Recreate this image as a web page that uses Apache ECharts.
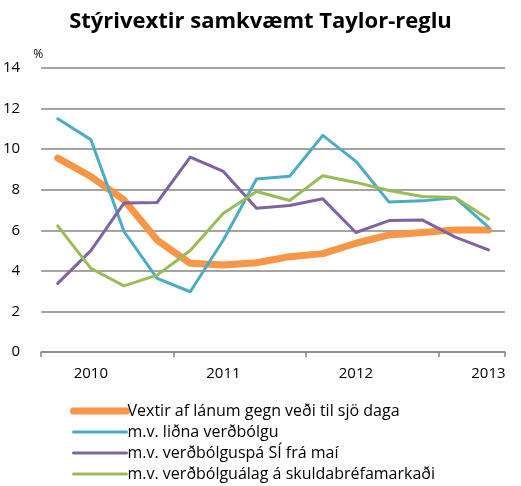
<!DOCTYPE html>
<html>
<head>
<meta charset="utf-8">
<script src="https://cdn.jsdelivr.net/npm/echarts@6/dist/echarts.min.js"></script>
<style>
  html, body { margin: 0; padding: 0; background: #fff; }
  #chart { width: 521px; height: 486px; }
</style>
</head>
<body>
<div id="chart"></div>
<script>
// ársfjórðungar, 2009 F4 - 2013 F1
const quarters = ['2009F4', '2010F1', '2010F2', '2010F3', '2010F4', '2011F1', '2011F2',
  '2011F3', '2011F4', '2012F1', '2012F2', '2012F3', '2012F4', '2013F1']
const yearLabels = ['', '2010', '', '', '', '2011', '', '', '', '2012', '', '', '', '2013']

const vextir = [9.56, 8.65, 7.5, 5.52, 4.37, 4.29, 4.4, 4.7, 4.85, 5.36, 5.77, 5.89, 6.02, 6.02]
const lidnaVerdbolgu = [11.5, 10.47, 5.94, 3.63, 2.97, 5.52, 8.53, 8.66, 10.68, 9.4, 7.39, 7.45, 7.6, 6.15]
const verdbolguspa = [3.38, 5.0, 7.34, 7.37, 9.61, 8.9, 7.09, 7.22, 7.55, 5.89, 6.48, 6.51, 5.66, 5.03]
const verdbolgualag = [6.22, 4.12, 3.26, 3.79, 5.0, 6.84, 7.91, 7.47, 8.69, 8.36, 7.96, 7.67, 7.62, 6.56]

const seriesNames = [
  'Vextir af lánum gegn veði til sjö daga',
  'm.v. liðna verðbólgu',
  'm.v. verðbólguspá SÍ frá maí',
  'm.v. verðbólguálag á skuldabréfamarkaði'
]

const chart = echarts.init(document.getElementById('chart'))
const font = 'Open Sans'
const gray = '#868686'

function line(name, data, color, width) {
  return {
    name: name,
    type: 'line',
    data: data,
    showSymbol: false,
    symbol: 'none',
    animation: false,
    lineStyle: { color: color, width: width, cap: 'round', join: 'round' },
    itemStyle: { color: color }
  }
}

chart.setOption({
  backgroundColor: '#fff',
  title: {
    text: 'Stýrivextir samkvæmt Taylor-reglu',
    left: 'center',
    top: 6,
    textStyle: { fontFamily: font, fontSize: 22, fontWeight: 'bold', color: '#000' }
  },
  legend: {
    orient: 'vertical',
    left: 70,
    top: 403,
    height: 120,
    padding: 0,
    itemWidth: 53,
    itemHeight: 15,
    itemGap: 5,
    itemStyle: { opacity: 0 },
    lineStyle: { width: 'inherit', cap: 'round' },
    textStyle: { fontFamily: font, fontSize: 16, color: '#000', padding: [0, 0, 0, -4] },
    data: seriesNames
  },
  grid: { left: 36, right: 16, top: 68, bottom: 134, containLabel: false },
  xAxis: {
    type: 'category',
    data: quarters,
    boundaryGap: true,
    axisLine: { lineStyle: { color: gray, width: 1.5 } },
    axisTick: {
      show: true,
      length: 5,
      interval: function (index) { return index % 4 === 0 },
      lineStyle: { color: gray, width: 1.5 }
    },
    axisLabel: {
      interval: 0,
      margin: 14,
      fontFamily: font,
      fontSize: 15,
      color: '#000',
      formatter: function (v, i) { return yearLabels[i] }
    }
  },
  yAxis: {
    type: 'value',
    min: 0,
    max: 14,
    interval: 2,
    name: '%',
    nameLocation: 'end',
    nameGap: 7,
    nameTextStyle: { fontFamily: font, fontSize: 12, color: '#000', align: 'center', padding: [0, 6, 0, 0] },
    axisLine: { show: false },
    axisTick: { show: false },
    axisLabel: { margin: 21, fontFamily: font, fontSize: 15, color: '#000' },
    splitLine: { lineStyle: { color: gray, width: 1.5 } }
  },
  series: [
    line(seriesNames[0], vextir, '#F79646', 7),
    line(seriesNames[1], lidnaVerdbolgu, '#4BACC6', 3),
    line(seriesNames[2], verdbolguspa, '#8064A2', 3),
    line(seriesNames[3], verdbolgualag, '#9BBB59', 3)
  ]
})
</script>
</body>
</html>
